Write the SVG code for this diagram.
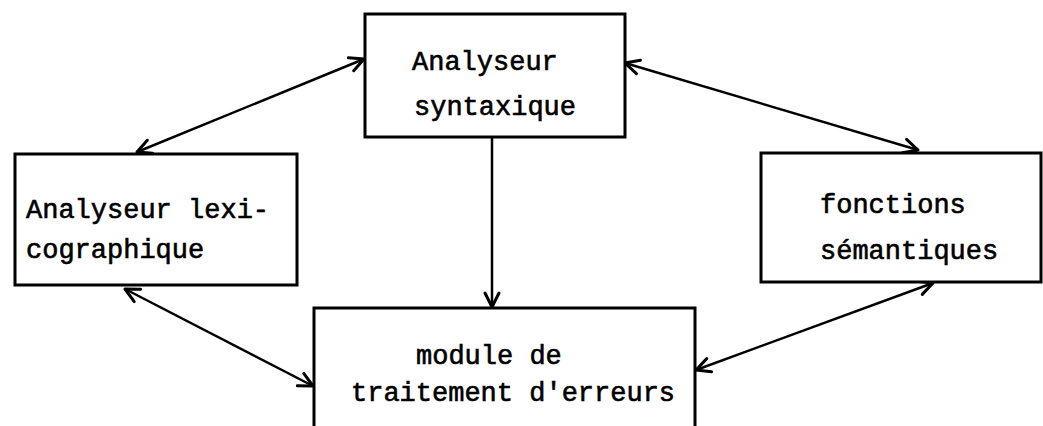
<svg xmlns="http://www.w3.org/2000/svg" width="1043" height="426" viewBox="0 0 1043 426">
<style>
.box{fill:#fff;stroke:#000;stroke-width:3}
.t{font-family:"Liberation Mono","DejaVu Sans Mono",monospace;font-size:27px;fill:#000;stroke:#000;stroke-width:0.6}
.c{stroke:#000;stroke-width:2.5;fill:none}
</style>
<defs>
<marker id="ah" markerUnits="userSpaceOnUse" markerWidth="30" markerHeight="30" refX="0" refY="0" orient="auto-start-reverse" overflow="visible">
<path d="M-14,-7 L0,0 L-14,7" fill="none" stroke="#000" stroke-width="3" stroke-linecap="round" stroke-linejoin="round"/>
</marker>
</defs>
<rect width="1043" height="426" fill="#fff"/>
<g id="connectors">
<line class="c" x1="137" y1="152" x2="364" y2="59" marker-start="url(#ah)" marker-end="url(#ah)"/>
<line class="c" x1="625" y1="63" x2="918" y2="150" marker-start="url(#ah)" marker-end="url(#ah)"/>
<line class="c" x1="492" y1="137" x2="492" y2="307" marker-end="url(#ah)"/>
<line class="c" x1="125" y1="289" x2="313" y2="386" marker-start="url(#ah)" marker-end="url(#ah)"/>
<line class="c" x1="933" y1="283" x2="696" y2="370" marker-start="url(#ah)" marker-end="url(#ah)"/>
</g>
<g id="syntaxique">
<rect class="box" x="365" y="14" width="260" height="123"/>
<text class="t" x="412" y="70">Analyseur</text>
<text class="t" x="414" y="115">syntaxique</text>
</g>
<g id="lexicographique">
<rect class="box" x="15" y="154" width="282" height="131"/>
<text class="t" x="26" y="218">Analyseur lexi-</text>
<text class="t" x="26" y="258">cographique</text>
</g>
<g id="semantiques">
<rect class="box" x="761" y="153" width="280" height="129"/>
<text class="t" x="820" y="213">fonctions</text>
<text class="t" x="820" y="259">sémantiques</text>
</g>
<g id="erreurs">
<rect class="box" x="314" y="308" width="381" height="130"/>
<text class="t" x="416" y="364">module de</text>
<text class="t" x="351" y="401">traitement d'erreurs</text>
</g>
</svg>
